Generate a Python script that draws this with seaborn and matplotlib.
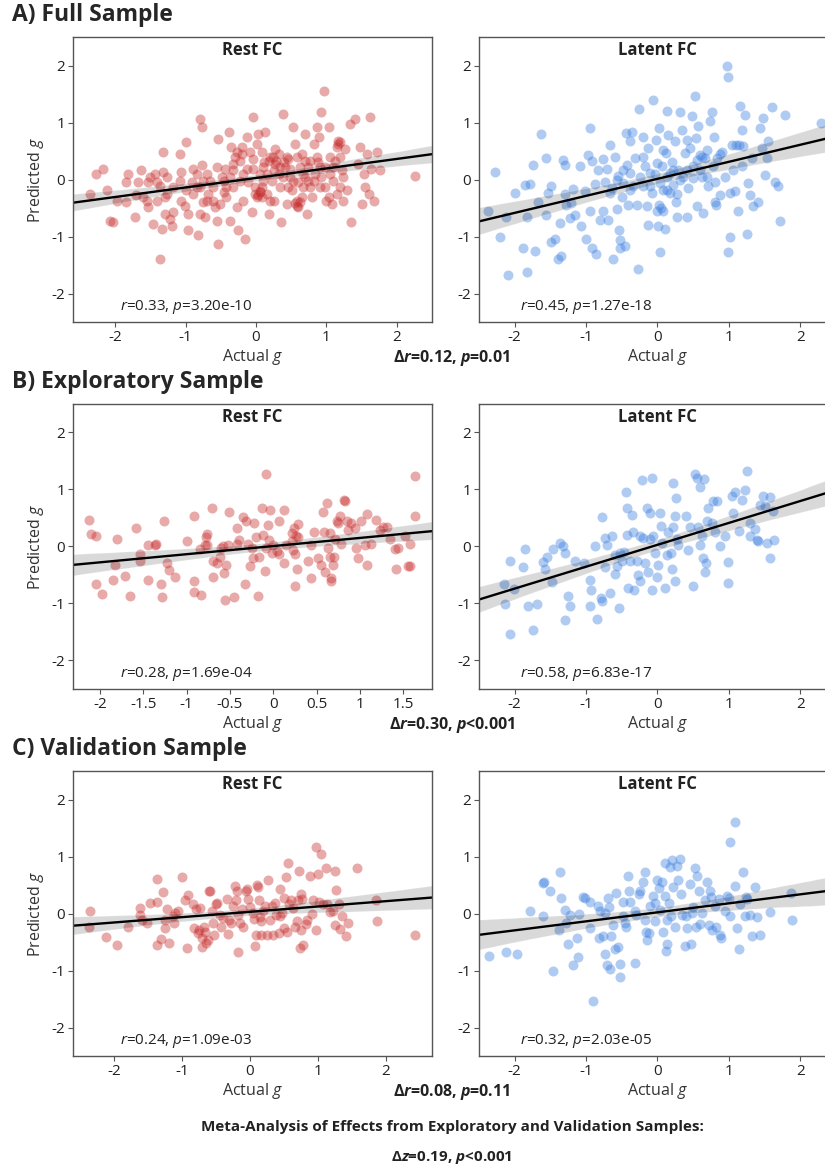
import numpy as np
import seaborn as sns
import matplotlib
matplotlib.use("Agg")
import matplotlib.pyplot as plt

# ---- data (actual g, predicted g) ----
full_rest = [(-2.36,-0.25),(-2.27,0.10),(-2.18,0.19),(-2.12,-0.18),(-1.98,-0.37),(-2.08,-0.72),(-2.03,-0.75),(-1.85,-0.05),(-1.82,0.10),(-1.85,-0.40),(-1.72,-0.66),(-1.70,-0.28),(-1.67,-0.05),(-1.63,0.16),(-1.53,-0.05),(-1.55,-0.37),(-1.53,-0.49),(-1.46,-0.78),(-1.44,0.10),(-1.41,-0.05),(-1.36,-0.11),(-1.32,0.48),(-1.32,0.13),(-1.33,-0.87),(-1.36,-1.39),(-1.29,-0.31),(-1.27,-0.25),(-1.29,-0.60),(-1.22,-0.69),(-1.20,-0.81),(-1.18,-0.57),(-1.08,0.45),(-1.06,0.13),(-1.06,-0.37),(-1.01,-0.46),(-0.99,0.65),(-0.96,-0.60),(-0.96,-0.89),(-0.91,-0.05),(-0.89,0.19),(-0.84,0.10),(-0.82,-0.98),(-0.80,1.06),(-0.77,0.92),(-0.80,-0.60),(-0.77,0.25),(-0.75,-0.40),(-0.73,-0.66),(-0.70,0.10),(-0.68,-0.25),(-0.65,-0.02),(-0.61,-0.37),(-0.58,-0.49),(-0.56,-0.72),(-0.54,-1.13),(-0.54,0.71),(-0.49,0.04),(-0.46,-0.22),(-0.44,0.19),(-0.42,-0.13),(-0.39,0.83),(-0.37,-0.72),(-0.35,0.57),(-0.32,0.16),(-0.30,0.39),(-0.27,-0.49),(-0.25,-0.89),(-0.23,-0.02),(-0.20,0.57),(-0.18,-0.37),(-0.13,0.19),(-0.13,0.74),(-0.16,-1.04),(-0.09,0.48),(-0.06,-0.57),(-0.05,1.09),(-0.04,0.36),(-0.01,-0.25),(0.01,0.63),(0.03,0.80),(0.06,0.10),(0.08,-0.13),(0.10,0.22),(0.13,0.83),(0.15,-0.25),(0.18,-0.60),(0.20,0.39),(0.22,-0.02),(0.25,-0.37),(0.27,0.54),(0.29,0.33),(0.32,0.10),(0.34,-0.13),(0.36,-0.75),(0.39,1.15),(0.41,0.22),(0.44,-0.43),(0.46,0.36),(0.48,0.04),(0.51,-0.19),(0.53,0.92),(0.55,0.63),(0.58,-0.37),(0.60,-0.49),(0.63,0.22),(0.65,0.45),(0.67,-0.13),(0.70,0.80),(0.72,-0.60),(0.74,-0.02),(0.77,0.33),(0.79,-0.31),(0.82,0.63),(0.84,0.10),(0.86,0.92),(0.89,0.74),(0.91,-0.13),(0.93,1.18),(0.96,1.55),(0.98,0.22),(1.00,-0.37),(1.03,0.92),(1.05,0.39),(1.08,-0.43),(1.10,-0.02),(1.12,0.33),(1.15,0.57),(1.17,0.68),(1.19,-0.13),(1.22,0.16),(1.24,-0.37),(1.27,0.54),(1.29,-0.19),(1.34,0.98),(1.35,-0.75),(1.41,1.06),(1.45,0.27),(1.48,0.57),(1.50,-0.43),(1.53,0.10),(1.55,-0.13),(1.57,0.45),(1.60,-0.25),(1.62,1.09),(1.64,0.19),(1.67,-0.37),(1.72,0.48),(1.76,0.16),(2.26,0.07),
             (-0.32,0.27),(-0.27,0.48),(-0.23,0.33),(-0.18,0.10),(-0.11,-0.05),(-0.04,0.19),(-0.01,-0.13),(0.01,-0.31),(0.05,-0.22),(0.08,0.48),(0.10,-0.02),(0.15,0.10),(0.18,0.33),(0.20,-0.37),(0.25,0.16),(0.27,0.27),(0.32,0.45),(0.34,0.22),(0.39,0.04),(0.44,0.39),(0.46,-0.13),(0.48,0.19),(0.53,-0.02),(0.58,0.39),(0.60,-0.05),(0.65,-0.31),(0.67,0.10),(0.70,0.33),(0.74,0.22),(0.77,-0.13),(0.82,-0.02),(0.86,0.39),(0.91,0.22),(0.93,0.04),(0.98,-0.13),(1.03,-0.31),(1.05,0.10),(1.10,0.22),(1.15,-0.25),(1.19,0.39),(1.24,0.04),(-0.61,-0.13),(-0.56,0.22),(-0.51,-0.43),(-0.46,-0.02),(-0.42,-0.31),(-0.37,0.04),(-0.32,-0.13),(-0.80,-0.13),(-0.75,-0.02),(-0.70,-0.37),(-0.89,-0.25),(-0.84,-0.13),(-0.99,-0.19),(-1.08,-0.02),(-1.18,-0.13),(-1.27,0.04),(-1.41,-0.37),(-1.51,0.04),(-1.60,-0.31),
             (0.03,-0.28),(0.06,-0.20),(0.08,-0.30),(0.55,-0.42),(0.58,-0.46),(0.62,-0.40),(0.12,0.30),(0.24,0.40),(0.40,0.30),(-0.20,0.45),(0.70,0.05),(0.88,0.30),(1.17,0.62),(1.20,0.66)]

full_latent = [(-2.37,-0.55),(-2.27,0.14),(-2.20,-1.01),(-2.12,-0.65),(-2.09,-1.67),(-1.99,-0.23),(-1.88,-1.20),(-1.86,-0.09),(-1.83,-0.65),(-1.83,-1.63),(-1.79,-0.08),(-1.75,0.26),(-1.72,-1.26),(-1.67,-0.40),(-1.63,0.80),(-1.56,0.37),(-1.56,-0.62),(-1.54,-0.24),(-1.49,-0.11),(-1.49,-1.09),(-1.44,-1.05),(-1.39,-1.40),(-1.37,-0.77),(-1.35,-1.35),(-1.32,0.35),(-1.30,0.26),(-1.30,-0.26),(-1.28,-0.44),(-1.23,-0.68),(-1.21,-0.42),(-1.18,-0.17),(-1.16,-0.62),(-1.09,0.24),(-1.07,-0.82),(-1.02,-0.21),(-1.00,-1.05),(-0.97,0.43),(-0.95,-0.56),(-0.94,0.90),(-0.92,0.32),(-0.92,-1.20),(-0.88,-0.08),(-0.86,-1.30),(-0.83,0.17),(-0.80,-0.71),(-0.77,-0.56),(-0.76,0.36),(-0.74,-0.04),(-0.71,0.18),(-0.69,-0.71),(-0.67,0.61),(-0.64,-0.15),(-0.62,-1.40),(-0.60,0.39),(-0.57,-0.52),(-0.55,0.06),(-0.54,-0.88),(-0.53,-1.07),(-0.52,-1.20),(-0.50,-0.30),(-0.48,-0.06),(-0.46,-1.16),(-0.44,0.81),(-0.43,0.26),(-0.41,-0.44),(-0.39,0.11),(-0.38,0.67),(-0.36,0.84),(-0.34,-0.12),(-0.32,0.37),(-0.29,-0.44),(-0.27,-1.57),(-0.26,1.24),(-0.24,0.05),(-0.21,0.75),(-0.18,0.23),(-0.15,-0.47),(-0.14,-0.80),(-0.13,0.55),(-0.11,-0.12),(-0.08,-0.24),(-0.06,1.39),(-0.04,0.10),(-0.02,0.70),(-0.01,-0.56),(0.01,-0.82),(0.02,0.90),(0.03,-1.28),(0.06,0.24),(0.08,-0.18),(0.10,-0.87),(0.12,0.46),(0.13,0.05),(0.14,1.20),(0.15,0.78),(0.17,-0.24),(0.20,0.30),(0.22,-0.09),(0.24,0.67),(0.26,-0.40),(0.27,-0.65),(0.29,0.17),(0.31,1.18),(0.34,0.87),(0.36,0.05),(0.38,0.46),(0.41,-0.65),(0.43,-0.15),(0.45,0.55),(0.48,1.12),(0.50,0.23),(0.52,1.46),(0.54,0.73),(0.56,-0.47),(0.57,0.93),(0.59,0.43),(0.62,0.05),(0.64,-0.59),(0.66,0.37),(0.69,0.52),(0.71,-0.12),(0.73,1.02),(0.76,1.19),(0.78,0.23),(0.79,0.75),(0.80,-0.04),(0.83,0.37),(0.87,-0.27),(0.90,0.49),(0.94,0.05),(0.98,1.99),(0.99,1.80),(0.99,-1.28),(1.01,-1.00),(1.02,-0.23),(1.04,0.61),(1.06,0.17),(1.08,-0.21),(1.13,-0.56),(1.14,0.61),(1.16,1.29),(1.18,0.87),(1.19,0.23),(1.22,1.13),(1.25,-0.95),(1.27,-0.06),(1.29,-0.27),(1.32,0.37),(1.34,-0.47),(1.41,-0.39),(1.43,0.90),(1.46,0.55),(1.48,1.08),(1.50,0.08),(1.53,0.37),(1.55,0.67),(1.61,1.27),(1.64,-0.04),(1.69,-0.12),(1.71,-0.72),(1.79,1.13),(2.29,0.99),
               (-0.20,-0.12),(-0.11,0.11),(0.03,-0.06),(0.13,-0.18),(0.22,0.17),(0.31,-0.01),(0.41,0.17),(0.50,0.02),(0.59,0.17),(0.69,0.05),(-0.39,-0.18),(-0.48,0.17),(-0.57,0.00),(-0.67,-0.24),(-0.20,0.40),(0.08,0.52),(0.41,0.70),(0.55,0.35),(-0.01,0.29),(0.17,0.11),
               (0.05,-0.50),(0.08,-0.55),(0.02,-0.45),(0.80,-0.40),(0.82,-0.45),(0.28,-0.25),(0.62,0.40),(0.88,0.45),(1.10,0.60),(1.20,0.58)]

explor_rest = [(-2.12,0.47),(-2.10,0.22),(-2.04,0.18),(-2.04,-0.66),(-1.98,-0.84),(-1.83,-0.32),(-1.85,-0.58),(-1.80,0.13),(-1.71,-0.51),(-1.65,-0.86),(-1.58,0.32),(-1.54,-0.13),(-1.54,-0.25),(-1.44,0.03),(-1.45,-0.58),(-1.37,0.03),(-1.35,0.04),(-1.30,-0.66),(-1.28,-0.88),(-1.26,0.44),(-1.23,-0.29),(-1.20,-0.41),(-1.13,-0.54),(-1.00,0.09),(-0.92,0.54),(-0.92,-0.60),(-0.92,-0.79),(-0.85,-0.04),(-0.83,-0.85),(-0.79,0.03),(-0.78,0.16),(-0.77,0.02),(-0.76,0.22),(-0.71,0.67),(-0.70,-0.25),(-0.70,-0.54),(-0.65,-0.29),(-0.62,-0.18),(-0.60,-0.03),(-0.58,0.00),(-0.57,-0.47),(-0.56,-0.94),(-0.54,-0.32),(-0.52,0.03),(-0.51,0.60),(-0.45,-0.89),(-0.42,0.04),(-0.42,0.33),(-0.39,0.12),(-0.35,0.51),(-0.33,-0.66),(-0.31,0.45),(-0.29,0.04),(-0.27,-0.35),(-0.25,-0.03),(-0.23,-0.20),(-0.22,0.42),(-0.20,0.16),(-0.18,-0.86),(-0.16,-0.18),(-0.13,0.67),(-0.12,0.20),(-0.10,-0.43),(-0.08,-0.03),(-0.08,1.27),(-0.06,0.38),(-0.05,0.12),(-0.04,0.64),(-0.02,-0.12),(0.00,0.03),(0.04,-0.08),(0.06,0.45),(0.07,-0.13),(0.12,-0.29),(0.12,0.64),(0.15,0.03),(0.21,0.23),(0.22,0.09),(0.23,-0.06),(0.24,0.32),(0.25,-0.13),(0.26,0.18),(0.27,-0.39),(0.28,0.39),(0.25,-0.70),(0.28,0.16),(0.40,-0.25),(0.44,0.02),(0.44,-0.56),(0.47,0.26),(0.52,-0.20),(0.55,-0.32),(0.57,0.61),(0.58,0.26),(0.60,-0.45),(0.62,0.76),(0.63,-0.03),(0.65,0.23),(0.65,-0.18),(0.66,-0.56),(0.67,-0.60),(0.69,-0.32),(0.70,-0.18),(0.71,0.13),(0.73,0.44),(0.75,0.41),(0.77,0.53),(0.78,0.04),(0.81,0.82),(0.83,0.79),(0.85,0.45),(0.86,0.29),(0.90,0.41),(0.94,0.32),(0.95,-0.03),(0.98,-0.20),(1.01,0.44),(1.06,0.03),(1.08,-0.33),(1.08,0.57),(1.13,0.04),(1.18,0.47),(1.23,0.29),(1.27,0.35),(1.31,0.35),(1.35,0.13),(1.40,-0.04),(1.42,-0.39),(1.44,-0.03),(1.52,0.18),(1.55,-0.35),(1.58,0.04),(1.63,0.54),(1.63,1.24),(1.58,-0.35)]

explor_latent = [(-2.15,-0.65),(-2.13,-1.01),(-2.07,-0.26),(-2.07,-1.53),(-2.01,-0.75),(-1.88,-0.36),(-1.85,-0.05),(-1.82,-1.05),(-1.74,-1.47),(-1.69,-1.01),(-1.61,-0.28),(-1.58,-0.40),(-1.55,-0.18),(-1.48,-0.63),(-1.46,-0.05),(-1.37,0.06),(-1.33,0.01),(-1.30,-1.29),(-1.29,-0.11),(-1.26,-0.87),(-1.23,-1.04),(-1.16,-0.25),(-1.03,-0.29),(-0.94,-0.58),(-0.93,-0.77),(-0.94,-1.05),(-0.88,0.01),(-0.85,-1.27),(-0.79,-0.91),(-0.78,0.51),(-0.78,-0.95),(-0.74,0.15),(-0.73,-0.36),(-0.71,0.03),(-0.66,-0.81),(-0.64,0.19),(-0.60,-0.48),(-0.59,-0.15),(-0.57,-0.35),(-0.54,-1.08),(-0.52,-0.11),(-0.50,-0.26),(-0.47,-0.09),(-0.44,0.96),(-0.43,0.67),(-0.43,0.20),(-0.42,-0.73),(-0.39,-0.25),(-0.36,0.56),(-0.34,0.26),(-0.33,-0.76),(-0.29,-0.26),(-0.27,-0.50),(-0.24,0.19),(-0.24,-0.61),(-0.22,1.17),(-0.20,0.15),(-0.17,-0.29),(-0.15,0.67),(-0.14,-0.44),(-0.11,0.58),(-0.10,0.13),(-0.08,1.20),(-0.08,-0.76),(-0.06,0.18),(-0.03,-0.12),(-0.01,-0.53),(0.01,-0.32),(0.03,0.58),(0.05,0.36),(0.07,0.06),(0.11,-0.73),(0.13,-0.15),(0.15,0.26),(0.19,-0.12),(0.20,-0.40),(0.22,0.35),(0.22,1.12),(0.25,0.54),(0.25,-0.61),(0.26,0.85),(0.27,0.13),(0.29,0.03),(0.40,0.53),(0.43,-0.06),(0.46,0.35),(0.50,-0.69),(0.53,1.27),(0.56,1.20),(0.57,0.35),(0.59,0.03),(0.60,1.04),(0.62,0.19),(0.64,-0.20),(0.65,1.18),(0.66,-0.44),(0.68,-0.29),(0.69,0.44),(0.71,0.67),(0.76,0.41),(0.78,0.79),(0.80,0.26),(0.83,0.79),(0.88,0.01),(0.94,0.18),(0.99,-0.28),(0.99,-0.64),(1.05,0.89),(1.06,0.58),(1.08,0.96),(1.14,0.28),(1.19,0.81),(1.22,0.99),(1.25,1.33),(1.29,0.41),(1.29,0.19),(1.36,0.30),(1.39,0.11),(1.41,0.09),(1.43,0.73),(1.48,0.89),(1.50,0.71),(1.53,0.07),(1.57,0.87),(1.57,-0.20),(1.62,0.63),(1.63,0.11)]

valid_rest = [(-2.35,0.05),(-2.36,-0.23),(-2.11,-0.42),(-1.95,-0.55),(-1.79,-0.23),(-1.62,0.09),(-1.61,-0.02),(-1.59,-0.11),(-1.51,-0.16),(-1.47,0.19),(-1.36,0.60),(-1.36,0.21),(-1.36,-0.55),(-1.30,-0.45),(-1.27,0.37),(-1.25,-0.11),(-1.25,-0.26),(-1.22,0.08),(-1.19,-0.52),(-1.13,-0.04),(-1.12,-0.16),(-1.10,0.01),(-1.05,0.05),(-0.99,0.64),(-0.96,0.23),(-0.93,-0.61),(-0.91,0.33),(-0.83,0.17),(-0.82,-0.26),(-0.79,0.08),(-0.76,-0.35),(-0.74,-0.29),(-0.73,0.09),(-0.71,-0.58),(-0.70,-0.43),(-0.68,-0.23),(-0.66,-0.32),(-0.64,-0.51),(-0.61,-0.47),(-0.60,0.39),(-0.58,0.40),(-0.56,0.05),(-0.54,-0.16),(-0.52,-0.37),(-0.50,0.17),(-0.48,0.19),(-0.44,-0.02),(-0.42,-0.23),(-0.40,-0.08),(-0.34,0.25),(-0.32,-0.36),(-0.30,-0.11),(-0.27,-0.16),(-0.25,0.13),(-0.22,0.49),(-0.21,0.24),(-0.19,0.39),(-0.17,-0.02),(-0.17,-0.67),(-0.15,-0.16),(-0.12,0.08),(-0.10,-0.23),(-0.06,0.40),(-0.04,0.43),(-0.02,0.25),(0.01,0.12),(0.04,0.01),(0.06,-0.10),(0.07,-0.57),(0.09,-0.37),(0.10,0.50),(0.12,0.47),(0.14,0.24),(0.15,-0.06),(0.16,-0.14),(0.17,-0.37),(0.20,0.04),(0.22,0.13),(0.25,-0.37),(0.27,0.59),(0.30,-0.11),(0.32,0.13),(0.34,-0.37),(0.37,0.19),(0.39,-0.02),(0.43,-0.35),(0.44,0.43),(0.45,-0.05),(0.48,0.01),(0.50,-0.26),(0.51,0.27),(0.53,0.64),(0.55,-0.33),(0.56,0.88),(0.58,0.17),(0.61,0.24),(0.64,0.09),(0.66,-0.24),(0.69,-0.14),(0.71,0.23),(0.73,0.75),(0.74,-0.61),(0.75,0.35),(0.76,-0.29),(0.77,0.25),(0.79,-0.55),(0.82,-0.18),(0.84,-0.11),(0.88,0.66),(0.91,-0.01),(0.93,0.24),(0.97,1.16),(0.98,-0.29),(1.00,0.70),(1.02,0.21),(1.05,1.05),(1.07,0.17),(1.12,0.80),(1.14,0.17),(1.18,0.02),(1.22,0.04),(1.25,0.74),(1.25,-0.20),(1.27,0.42),(1.31,0.17),(1.32,-0.27),(1.35,-0.05),(1.41,-0.40),(1.45,-0.16),(1.57,0.80),(1.86,0.23),(1.87,-0.14),(2.43,-0.37)]

valid_latent = [(-2.36,-0.75),(-2.12,-0.67),(-1.97,-0.71),(-1.79,0.04),(-1.61,0.53),(-1.61,-0.05),(-1.59,0.56),(-1.51,0.40),(-1.47,-1.00),(-1.36,0.73),(-1.35,0.27),(-1.38,-0.29),(-1.29,0.06),(-1.28,-0.17),(-1.25,-0.53),(-1.22,-0.02),(-1.19,-0.91),(-1.13,-0.43),(-1.11,-0.77),(-1.10,-0.01),(-1.05,0.29),(-1.01,0.27),(-0.95,0.21),(-0.94,-0.26),(-0.91,-1.53),(-0.83,0.13),(-0.82,-0.43),(-0.80,0.04),(-0.76,-0.39),(-0.74,0.01),(-0.73,-0.71),(-0.71,-0.90),(-0.69,0.27),(-0.68,0.12),(-0.67,-0.98),(-0.65,-0.40),(-0.62,-0.20),(-0.60,-0.63),(-0.58,0.36),(-0.55,-0.59),(-0.53,-1.12),(-0.52,-0.88),(-0.49,-0.04),(-0.48,0.21),(-0.46,-0.17),(-0.44,-0.23),(-0.41,0.66),(-0.40,0.40),(-0.39,0.21),(-0.32,0.05),(-0.31,-0.86),(-0.30,-0.02),(-0.26,0.35),(-0.24,0.40),(-0.21,0.56),(-0.18,-0.11),(-0.17,0.72),(-0.16,-0.32),(-0.15,-0.46),(-0.12,-0.35),(-0.10,0.13),(-0.07,0.30),(-0.04,-0.14),(-0.03,0.19),(0.00,0.59),(0.02,0.44),(0.04,0.06),(0.06,0.56),(0.08,-0.33),(0.10,0.30),(0.11,0.89),(0.12,-0.65),(0.13,-0.53),(0.14,-0.11),(0.16,0.19),(0.18,0.81),(0.19,-0.05),(0.20,0.93),(0.22,0.47),(0.25,-0.23),(0.27,0.84),(0.29,0.59),(0.31,0.95),(0.33,0.35),(0.35,-0.02),(0.38,-0.57),(0.40,-0.05),(0.42,-0.26),(0.45,0.52),(0.47,-0.53),(0.48,0.01),(0.50,0.12),(0.53,0.80),(0.54,-0.24),(0.56,0.65),(0.58,0.39),(0.60,-0.18),(0.63,0.01),(0.66,0.23),(0.69,0.56),(0.72,-0.20),(0.74,0.39),(0.75,0.29),(0.77,-0.29),(0.80,0.13),(0.82,-0.23),(0.86,0.25),(0.88,-0.37),(0.89,-0.43),(0.94,0.05),(0.97,0.30),(1.00,0.27),(1.01,1.26),(1.02,-0.04),(1.08,1.60),(1.09,0.49),(1.12,-0.26),(1.14,-0.63),(1.16,0.17),(1.20,0.72),(1.22,-0.05),(1.24,0.29),(1.26,0.25),(1.29,-0.02),(1.32,-0.39),(1.36,0.47),(1.40,-0.06),(1.44,-0.37),(1.58,0.02),(1.87,0.36),(1.88,-0.12)]

row_titles = ["A) Full Sample", "B) Exploratory Sample", "C) Validation Sample"]
col_titles = ["Rest FC", "Latent FC"]
stats_text = [["$r$=0.33, $p$=3.20e-10", "$r$=0.45, $p$=1.27e-18"],
              ["$r$=0.28, $p$=1.69e-04", "$r$=0.58, $p$=6.83e-17"],
              ["$r$=0.24, $p$=1.09e-03", "$r$=0.32, $p$=2.03e-05"]]
diff_text = [r"Δ$\mathbfit{r}$=0.12, $\mathbfit{p}$=0.01",
             r"Δ$\mathbfit{r}$=0.30, $\mathbfit{p}$<0.001",
             r"Δ$\mathbfit{r}$=0.08, $\mathbfit{p}$=0.11"]
meta_title = "Meta-Analysis of Effects from Exploratory and Validation Samples:"
meta_text = r"Δ$\mathbfit{z}$=0.19, $\mathbfit{p}$<0.001"

ticks_std = [-2, -1, 0, 1, 2]
ticks_half = [-2, -1.5, -1, -0.5, 0, 0.5, 1, 1.5]
ticks_half_labels = ["-2", "-1.5", "-1", "-0.5", "0", "0.5", "1", "1.5"]

panels = [[full_rest, full_latent], [explor_rest, explor_latent], [valid_rest, valid_latent]]
xlims = [[(-2.6, 2.5), (-2.5, 2.5)], [(-2.31, 1.83), (-2.5, 2.5)], [(-2.6, 2.68), (-2.5, 2.5)]]

red = "#c62a2a"
blue = "#3a7de0"

sns.set_style("white")
plt.rcParams["font.family"] = ["Open Sans", "DejaVu Sans"]
plt.rcParams["mathtext.fontset"] = "custom"
plt.rcParams["mathtext.rm"] = "Open Sans"
plt.rcParams["mathtext.it"] = "Open Sans:italic"
plt.rcParams["mathtext.bf"] = "Open Sans:bold"
plt.rcParams["mathtext.bfit"] = "Open Sans:italic:bold"
plt.rcParams["axes.unicode_minus"] = False

W, H = 825, 1174
fig = plt.figure(figsize=(W / 100, H / 100), dpi=100)

tops = [37, 404, 771]
lefts = [73, 479]
widths = [359, 357]
ax_h = 285

for r in range(3):
    fig.text(12 / W, 1 - (tops[r] - 22) / H, row_titles[r], fontsize=16.5,
             fontweight="bold", va="center", ha="left")
    for c in range(2):
        ax = fig.add_axes([lefts[c] / W, 1 - (tops[r] + ax_h) / H, widths[c] / W, ax_h / H])
        pts = np.array(panels[r][c])
        ax.set_xlim(*xlims[r][c])
        ax.set_ylim(-2.5, 2.5)
        sns.regplot(x=pts[:, 0], y=pts[:, 1], ax=ax, truncate=False, seed=0,
                    scatter_kws=dict(color=red if c == 0 else blue, alpha=0.4,
                                     s=52, linewidths=0),
                    line_kws=dict(color="black", lw=1.7))
        ax.set_xlim(*xlims[r][c])
        ax.set_ylim(-2.5, 2.5)
        ax.set_yticks(ticks_std)
        ax.set_yticklabels([str(t) for t in ticks_std])
        if r == 1 and c == 0:
            ax.set_xticks(ticks_half)
            ax.set_xticklabels(ticks_half_labels)
        else:
            ax.set_xticks(ticks_std)
            ax.set_xticklabels([str(t) for t in ticks_std])
        for sp in ax.spines.values():
            sp.set_color("#555555")
            sp.set_linewidth(1.0)
        ax.tick_params(axis="both", direction="out", length=3.5, width=0.8,
                       color="#555555", labelsize=11, labelcolor="#222222",
                       bottom=True, left=True, pad=2)
        ax.set_xlabel("Actual $g$", fontsize=11.5, color="#333333", labelpad=2)
        if c == 0:
            ax.set_ylabel("Predicted $g$", fontsize=11.5, color="#333333", labelpad=4)
        ax.text(0.5, 1 - 13 / ax_h, col_titles[c], transform=ax.transAxes,
                ha="center", va="center", fontsize=12, fontweight="bold", color="#222222")
        ax.text(0.13 if c == 0 else 0.115, 15 / ax_h, stats_text[r][c],
                transform=ax.transAxes, ha="left", va="center", fontsize=11, color="#222222")
    fig.text(452 / W, 1 - (tops[r] + ax_h + 36) / H, diff_text[r], fontsize=11.5,
             fontweight="bold", ha="center", va="center", color="#222222")

fig.text(452 / W, 1 - 1127 / H, meta_title, fontsize=11, fontweight="bold",
         ha="center", va="center", color="#222222")
fig.text(452 / W, 1 - 1158 / H, meta_text, fontsize=11, fontweight="bold",
         ha="center", va="center", color="#222222")

fig.savefig("out.png", dpi=100)
